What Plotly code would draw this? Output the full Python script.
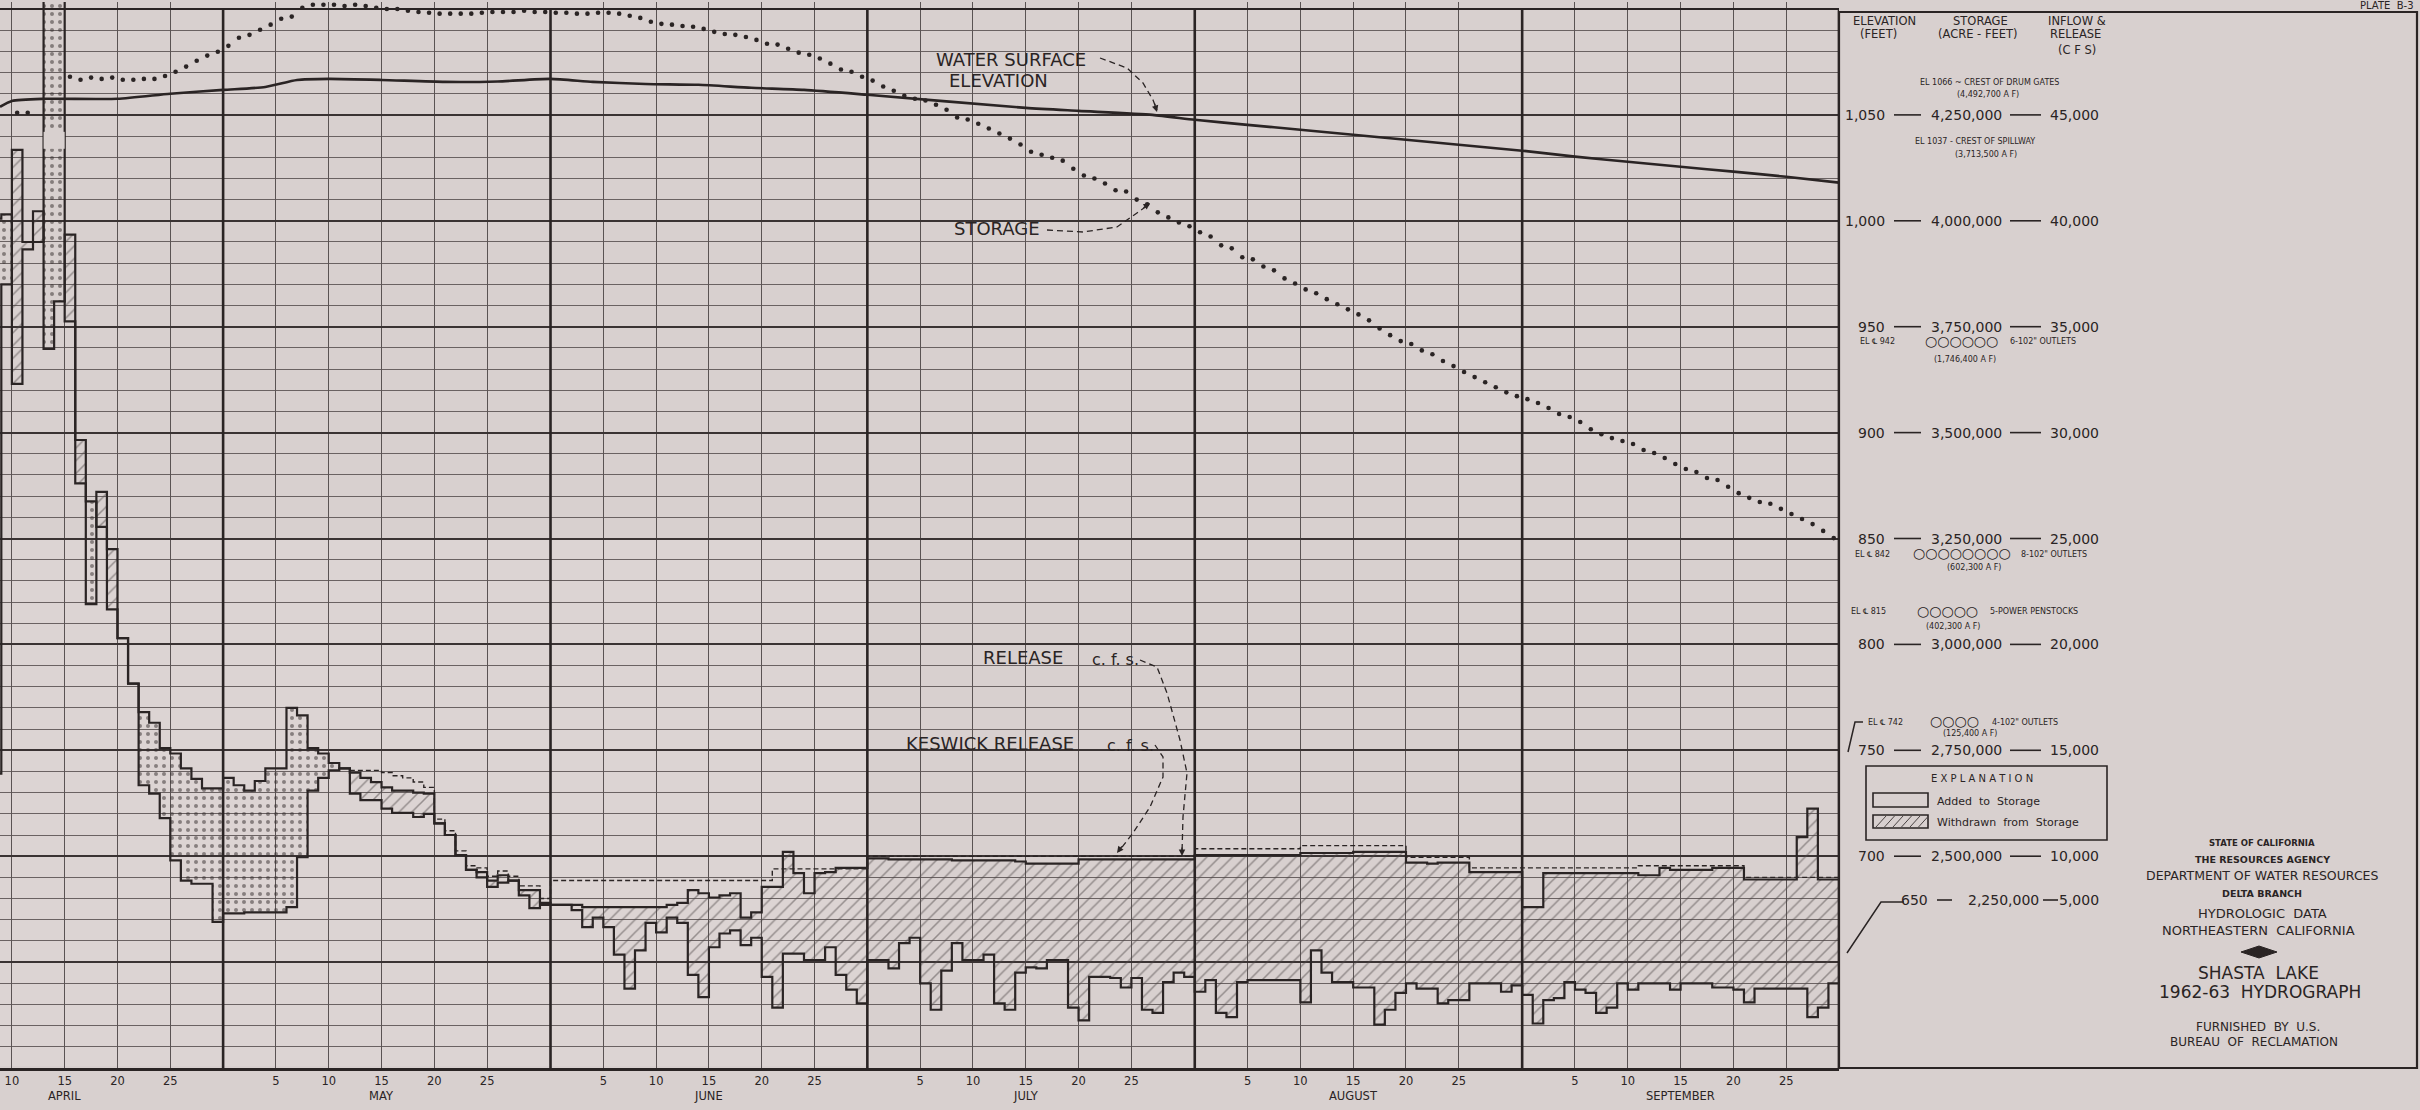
import plotly.graph_objects as go
import pandas as pd

W, H = 2420, 1110
INK = "#2a2424"
BG = "#d8d0cf"
FONT = "DejaVu Sans"

# ------------------------------------------------------------------ data
first_day = "1963-04-09"
last_day = "1963-09-30"

# Shasta inflow, daily mean c.f.s.
inflow_apr = [40100, 40300, 32300, 38650, 39000, 72000, 64000, 35250, 27600, 26750,
              25550, 21650, 20300, 18150, 16800, 16300, 15100, 14850, 14150, 13650,
              13200, 13200]
inflow_may = [13700, 13350, 13100, 13550, 14150, 14150, 17000, 16650, 15100, 14850,
              14400, 14150, 12950, 12650, 12650, 12250, 12050, 12050, 11850, 12000,
              11550, 11000, 10050, 9350, 9000, 8550, 8750, 8850, 8150, 7550, 7700]
inflow_jun = [7700, 7700, 7450, 6650, 7100, 6650, 5350, 3750, 5550, 6850,
              6400, 7100, 6850, 4400, 3350, 5700, 6350, 6500, 5800, 6150,
              4300, 2850, 5400, 5400, 5100, 5100, 5700, 4400, 3700, 3050]
inflow_jul = [5100, 5100, 4700, 5900, 6150, 4000, 2750, 4600, 5900, 5100,
              5100, 5350, 3050, 2750, 4500, 4750, 4700, 5100, 5100, 2850,
              2250, 4300, 4300, 4250, 3800, 4250, 2750, 2600, 4050, 4500, 4300]
inflow_aug = [3600, 4150, 2600, 2400, 4050, 4150, 4150, 4150, 4150, 4150,
              3100, 5550, 4500, 4050, 4050, 3800, 3800, 2050, 2750, 3550,
              4000, 3750, 3750, 3050, 3200, 3200, 4000, 4000, 4000, 3600, 3900]
inflow_sep = [3450, 2100, 3200, 3300, 4050, 3700, 3550, 2600, 2850, 4000,
              3700, 4000, 4000, 4000, 3700, 4000, 4000, 4000, 3800, 3800,
              3700, 3100, 3750, 3750, 3750, 3750, 3750, 2400, 2850, 4000]

# Shasta release, daily mean c.f.s.
release_apr = [13900, 37000, 43350, 39000, 40450, 33950, 36200, 39350, 29650, 21900,
               27200, 24500, 20300, 18150, 13350, 12950, 11800, 9800, 8850, 8700,
               8700, 6900]
release_may = [7300, 7300, 7350, 7350, 7350, 7350, 7600, 9950, 13100, 13700,
               14050, 14150, 13950, 13700, 13500, 13250, 13100, 13100, 13000, 12950,
               11550, 11000, 10050, 9350, 9250, 8850, 9100, 8850, 8400, 8400, 7800]
release_jun = [7700, 7700, 7700, 7600, 7600, 7600, 7600, 7600, 7600, 7600,
               7600, 7700, 7800, 8400, 8250, 8050, 8150, 8250, 7100, 7350,
               8550, 8550, 10200, 9200, 8250, 9200, 9250, 9450, 9450, 9450]
release_jul = [9900, 9900, 9850, 9850, 9850, 9850, 9850, 9850, 9800, 9800,
               9800, 9800, 9800, 9800, 9750, 9650, 9650, 9650, 9650, 9650,
               9850, 9850, 9850, 9850, 9850, 9850, 9850, 9850, 9850, 9850, 9850]
release_aug = [10050, 10050, 10050, 10050, 10050, 10050, 10050, 10050, 10050, 10050,
               10150, 10150, 10150, 10150, 10150, 10200, 10200, 10200, 10200, 10200,
               9700, 9700, 9650, 9700, 9700, 9700, 9250, 9250, 9250, 9250, 9250]
release_sep = [7600, 7600, 9200, 9200, 9200, 9200, 9200, 9200, 9200, 9200,
               9200, 9100, 9100, 9450, 9350, 9350, 9350, 9350, 9450, 9450,
               9450, 8900, 8900, 8900, 8900, 8900, 10900, 12250, 8900, 8900]

# Keswick release, c.f.s. (None = not drawn)
keswick_apr = [None] * 22
keswick_may = [None, None, None, None, None, None, None, None, None, None,
               None, None, 14050, 14050, 14050, 13950, 13800, 13700, 13500, 13250,
               11750, 11200, 10250, 9550, 9450, 9050, 9300, 9050, 8600, 8600, 8000]
keswick_jun = [8850, 8850, 8850, 8850, 8850, 8850, 8850, 8850, 8850, 8850,
               8850, 8850, 8850, 8850, 8850, 8850, 8850, 8850, 8850, 8850,
               8850, 9400, 9400, 9400, 9400, 9400, 9400, 9400, 9400, 9400]
keswick_jul = [10000, 10000, 10000, 10000, 10000, 10000, 10000, 10000, 10000, 10000,
               10000, 10000, 10000, 10000, 10000, 10000, 10000, 10000, 10000, 10000,
               10000, 10000, 10000, 10000, 10000, 10000, 10000, 10000, 10000, 10000, 10000]
keswick_aug = [10350, 10350, 10350, 10350, 10350, 10350, 10350, 10350, 10350, 10350,
               10500, 10500, 10500, 10500, 10500, 10500, 10500, 10500, 10500, 10500,
               9950, 9950, 9950, 9950, 9950, 9950, 9450, 9450, 9450, 9450, 9450]
keswick_sep = [9450, 9450, 9450, 9450, 9450, 9450, 9450, 9450, 9450, 9450,
               9450, 9550, 9550, 9550, 9550, 9550, 9550, 9550, 9550, 9550,
               9550, 9000, 9000, 9000, 9000, 9000, 9000, 9000, 9000, 9000]

# Storage, thousand acre-feet (daily dots)
storage_apr = [None, None, 4255, 4255, None, None, None, 4340, 4333, 4338,
               4335, 4338, 4333, 4333, 4335, 4335, 4342, 4352, 4364, 4378,
               4390, 4399]
storage_may = [4413, 4432, 4439, 4451, 4463, 4477, 4482, 4503, 4510, 4510,
               4510, 4507, 4510, 4507, 4503, 4500, 4500, 4496, 4493, 4491,
               4489, 4489, 4489, 4489, 4491, 4493, 4493, 4493, 4496, 4493, 4493]
storage_jun = [4491, 4491, 4489, 4489, 4491, 4491, 4489, 4484, 4479, 4470,
               4465, 4463, 4460, 4458, 4453, 4446, 4441, 4439, 4434, 4427,
               4418, 4416, 4406, 4397, 4392, 4383, 4371, 4357, 4352, 4340]
storage_jul = [4331, 4317, 4307, 4295, 4288, 4284, 4274, 4262, 4244, 4239,
               4229, 4218, 4206, 4194, 4180, 4163, 4156, 4149, 4142, 4123,
               4107, 4100, 4088, 4072, 4069, 4050, 4039, 4020, 4008, 3996, 3987]
storage_aug = [3973, 3963, 3942, 3935, 3914, 3909, 3892, 3883, 3864, 3852,
               3838, 3829, 3815, 3803, 3791, 3779, 3765, 3746, 3730, 3716,
               3709, 3694, 3685, 3669, 3657, 3643, 3631, 3619, 3607, 3595, 3586]
storage_sep = [3579, 3570, 3558, 3544, 3537, 3525, 3508, 3496, 3487, 3480,
               3473, 3459, 3452, 3440, 3426, 3414, 3407, 3393, 3388, 3372,
               3357, 3346, 3336, 3332, 3320, 3308, 3296, 3284, 3268, 3251]

# Water surface elevation, feet
elev_dates = ["1963-04-09 21:00", "1963-04-11", "1963-04-14", "1963-04-21", "1963-04-26",
              "1963-05-01", "1963-05-05", "1963-05-08", "1963-05-11", "1963-05-16",
              "1963-05-22", "1963-05-27", "1963-06-01", "1963-06-05", "1963-06-10",
              "1963-06-15", "1963-06-20", "1963-06-25", "1963-07-01", "1963-07-16",
              "1963-07-21", "1963-07-28", "1963-08-01", "1963-08-06", "1963-08-11",
              "1963-08-16", "1963-08-21", "1963-08-26", "1963-09-01", "1963-09-06",
              "1963-09-11", "1963-09-16", "1963-09-21", "1963-09-26", "1963-10-01"]
elev_ft = [1053.8, 1056.6, 1057.6, 1057.6, 1060.0, 1061.8, 1063.2, 1066.5, 1067.0, 1066.5,
           1065.6, 1065.8, 1067.0, 1065.6, 1064.6, 1064.2, 1062.8, 1061.8, 1059.5, 1053.3,
           1051.9, 1050.0, 1047.7, 1045.3, 1043.0, 1040.6, 1038.3, 1035.9, 1033.1, 1030.3,
           1027.9, 1025.5, 1023.2, 1020.8, 1018.0]

# axis scale labels (right-hand table)
scale_elev = ["1,050", "1,000", "950", "900", "850", "800", "750", "700"]
scale_storage = ["4,250,000", "4,000,000", "3,750,000", "3,500,000",
                 "3,250,000", "3,000,000", "2,750,000", "2,500,000"]
scale_cfs_text = ["45,000", "40,000", "35,000", "30,000", "25,000", "20,000", "15,000", "10,000"]
scale_cfs = [45000, 40000, 35000, 30000, 25000, 20000, 15000, 10000]

month_names = ["APRIL", "MAY", "JUNE", "JULY", "AUGUST", "SEPTEMBER"]
month_nums = [4, 5, 6, 7, 8, 9]
grid_days = [5, 10, 15, 20, 25]

# ------------------------------------------------------------------ derived
inflow = inflow_apr + inflow_may + inflow_jun + inflow_jul + inflow_aug + inflow_sep
release = release_apr + release_may + release_jun + release_jul + release_aug + release_sep
keswick = keswick_apr + keswick_may + keswick_jun + keswick_jul + keswick_aug + keswick_sep
storage = storage_apr + storage_may + storage_jun + storage_jul + storage_aug + storage_sep

days = list(pd.date_range(first_day, last_day, freq="D"))
one = pd.Timedelta(days=1)
xs = [d.strftime("%Y-%m-%d") for d in days] + [(days[-1] + one).strftime("%Y-%m-%d")]
ext = lambda a: list(a) + [a[-1]]
inflow_e, release_e, keswick_e = ext(inflow), ext(release), ext(keswick)
upper = [max(a, b) for a, b in zip(inflow_e, release_e)]
x_mid = [(d + pd.Timedelta(hours=12)).strftime("%Y-%m-%d %H:%M") for d in days]

# ------------------------------------------------------------------ geometry helpers
PLOT_TOP, PLOT_BOTTOM, PLOT_RIGHT = 9, 1068, 1839
EXTRA = 7                      # px of headroom above the 50,000 line (for dots / flood bars)
X0 = pd.Timestamp(first_day) + pd.Timedelta(hours=21)
X1 = days[-1] + one
span = PLOT_BOTTOM - PLOT_TOP
head = EXTRA / span


def px(x):
    return x / W


def py(y):
    return (H - y) / H


def T(x, y, s, size=14, anchor="center", bold=False, yref="paper", family=FONT, color=INK):
    if bold:
        s = "<b>" + s + "</b>"
    return dict(x=px(x), y=(py(y) if yref == "paper" else y), xref="paper", yref=yref,
                text=s, showarrow=False, xanchor=anchor, yanchor="middle",
                font=dict(family=family, size=size, color=color))


def path(points):
    return "M " + " L ".join(f"{px(a):.5f},{py(b):.5f}" for a, b in points)


fig = go.Figure()

# added to storage (inflow above release) - stipple
fig.add_trace(go.Scatter(x=xs, y=release_e, mode="lines", line=dict(width=0, shape="hv"),
                         hoverinfo="skip", showlegend=False))
fig.add_trace(go.Scatter(x=xs, y=upper, mode="lines", line=dict(width=0, shape="hv"),
                         fill="tonexty", fillcolor="rgba(0,0,0,0)",
                         fillpattern=dict(shape=".", fgcolor="#2f2929", bgcolor="rgba(0,0,0,0)",
                                          size=8, solidity=0.2),
                         hoverinfo="skip", showlegend=False))
# withdrawn from storage (release above inflow) - hatch
fig.add_trace(go.Scatter(x=xs, y=inflow_e, mode="lines", line=dict(width=0, shape="hv"),
                         hoverinfo="skip", showlegend=False))
fig.add_trace(go.Scatter(x=xs, y=upper, mode="lines", line=dict(width=0, shape="hv"),
                         fill="tonexty", fillcolor="rgba(0,0,0,0)",
                         fillpattern=dict(shape="/", fgcolor="#4e4747", bgcolor="rgba(0,0,0,0)",
                                          size=9, solidity=0.17),
                         hoverinfo="skip", showlegend=False))
# outlines
fig.add_trace(go.Scatter(x=xs, y=inflow_e, mode="lines", name="Inflow",
                         line=dict(color=INK, width=2.2, shape="hv")))
fig.add_trace(go.Scatter(x=xs, y=release_e, mode="lines", name="Release",
                         line=dict(color=INK, width=2.2, shape="hv")))
fig.add_trace(go.Scatter(x=xs, y=keswick_e, mode="lines", name="Keswick release",
                         line=dict(color=INK, width=1.4, shape="hv", dash="5px,3px")))
# storage dots
fig.add_trace(go.Scatter(x=x_mid, y=storage, mode="markers", yaxis="y3", name="Storage",
                         marker=dict(size=4.6, color=INK), cliponaxis=False))
# water surface elevation
fig.add_trace(go.Scatter(x=elev_dates, y=elev_ft, mode="lines", yaxis="y2",
                         name="Water surface elevation",
                         line=dict(color=INK, width=2.6, shape="spline", smoothing=0.6)))

# ------------------------------------------------------------------ axes
tickvals, ticktext = [], []
for m in month_nums:
    for d in grid_days:
        t = pd.Timestamp(1963, m, d) + one
        if t > X0:
            tickvals.append(t.strftime("%Y-%m-%d"))
            ticktext.append(str(d))

fig.update_layout(
    width=W, height=H, margin=dict(l=0, r=0, t=0, b=0),
    paper_bgcolor=BG, plot_bgcolor=BG, showlegend=False,
    xaxis=dict(type="date", range=[X0.strftime("%Y-%m-%d %H:%M"), X1.strftime("%Y-%m-%d")],
               domain=[0, px(PLOT_RIGHT)], tickmode="array", tickvals=tickvals, ticktext=ticktext,
               showgrid=True, gridcolor="#5a5353", gridwidth=1.3, ticks="",
               tickfont=dict(family=FONT, size=11.5, color=INK),
               showline=True, linecolor=INK, linewidth=2.6, zeroline=False, automargin=False),
    yaxis=dict(range=[0, 50000 * (1 + head)], domain=[py(PLOT_BOTTOM), py(PLOT_TOP - EXTRA)],
               dtick=5000, tick0=0,
               showgrid=True, gridcolor="#3a3333", gridwidth=2.2,
               minor=dict(dtick=1000, tick0=0, showgrid=True, gridcolor="#6a6262", gridwidth=1.2),
               showticklabels=False, ticks="", zeroline=False, automargin=False),
    yaxis2=dict(range=[600, 1100 + 500 * head], overlaying="y", visible=False),
    yaxis3=dict(range=[2000, 4500 + 2500 * head], overlaying="y", visible=False),
)

shapes = []
# scan-lightened area of the sheet
shapes.append(dict(type="rect", xref="paper", yref="paper", x0=0, x1=px(870),
                   y0=py(1066), y1=py(540), fillcolor="rgba(255,255,255,0.10)",
                   line=dict(width=0), layer="between"))
# hide grid in the headroom strip above the top line
shapes.append(dict(type="rect", xref="paper", yref="paper", x0=0, x1=px(PLOT_RIGHT),
                   y0=py(PLOT_TOP - 1), y1=1, fillcolor=BG, line=dict(width=0), layer="between"))
# bold month-end lines
for m in month_nums:
    t = (pd.Timestamp(1963, m + 1, 1)).strftime("%Y-%m-%d")
    shapes.append(dict(type="line", xref="x", yref="paper", x0=t, x1=t,
                       y0=py(PLOT_BOTTOM), y1=py(PLOT_TOP), line=dict(color=INK, width=2.6)))
# top line of the chart
shapes.append(dict(type="line", xref="paper", yref="paper", x0=0, x1=px(PLOT_RIGHT),
                   y0=py(PLOT_TOP), y1=py(PLOT_TOP), line=dict(color=INK, width=2.2)))
# break in off-scale flood columns
shapes.append(dict(type="rect", xref="x", yref="y", x0="1963-04-14", x1="1963-04-16",
                   y0=43400, y1=44200, fillcolor=BG, line=dict(width=0), layer="above"))
# right panel frame
shapes.append(dict(type="rect", xref="paper", yref="paper", x0=px(PLOT_RIGHT), x1=px(2417),
                   y0=py(PLOT_BOTTOM), y1=py(12), line=dict(color=INK, width=2.2)))

ann = []
# x-axis month names
for name, m in zip(month_names, month_nums):
    t = (pd.Timestamp(1963, m, 15) + one).strftime("%Y-%m-%d")
    ann.append(dict(x=t, y=py(1096), xref="x", yref="paper", text=name, showarrow=False,
                    xanchor="center", yanchor="middle", font=dict(family=FONT, size=11.5, color=INK)))

# chart labels and leaders
ann += [
    T(1011, 59, "WATER SURFACE", 18),
    T(998, 80, "ELEVATION", 18),
    T(997, 228, "STORAGE", 18),
    T(1023, 657, "RELEASE", 18),
    T(1115, 660, "c. f. s.", 16),
    T(990, 743, "KESWICK RELEASE", 18),
    T(1130, 745, "c. f. s.", 16),
]
leaders = [
    [(1100, 58), (1127, 68), (1143, 83), (1153, 100), (1157, 110)],
    [(1047, 230), (1083, 232), (1117, 227), (1137, 213), (1148, 205)],
    [(1140, 660), (1157, 667), (1167, 693), (1180, 740), (1187, 773), (1183, 817), (1182, 853)],
    [(1155, 745), (1163, 757), (1163, 777), (1150, 807), (1133, 833), (1119, 851)],
]
for pts in leaders:
    shapes.append(dict(type="path", xref="paper", yref="paper", path=path(pts),
                       line=dict(color=INK, width=1.3, dash="6px,4px")))
for (tx, ty), (ax, ay) in [((1157, 112), (-3, -10)), ((1150, 203), (-8, 6)),
                          ((1182, 856), (0, -10)), ((1117, 853), (6, -8))]:
    ann.append(dict(x=px(tx), y=py(ty), xref="paper", yref="paper", text="", showarrow=True,
                    ax=ax, ay=ay, arrowhead=2, arrowsize=1, arrowwidth=1.3, arrowcolor=INK))

# ---- right-hand panel
ann += [
    T(1884, 21, "ELEVATION", 11.5), T(1980, 21, "STORAGE", 11.5), T(2077, 21, "INFLOW &", 11.5),
    T(1878, 34, "(FEET)", 11.5), T(1978, 34, "(ACRE - FEET)", 11.5), T(2075, 34, "RELEASE", 11.5),
    T(2077, 50, "(C F S)", 11.5),
    T(1989, 82, "EL 1066 ~ CREST OF DRUM GATES", 8),
    T(1988, 94, "(4,492,700 A F)", 8),
    T(1975, 141, "EL 1037 - CREST OF SPILLWAY", 8),
    T(1986, 154, "(3,713,500 A F)", 8),
]
for e, s, ct, cv in zip(scale_elev, scale_storage, scale_cfs_text, scale_cfs):
    ann.append(T(1887, cv, e, 14, anchor="right", yref="y"))
    ann.append(T(1966, cv, s, 14, yref="y"))
    ann.append(T(2101, cv, ct, 14, anchor="right", yref="y"))
    for a, b in [(1894, 1921), (2010, 2041)]:
        shapes.append(dict(type="line", xref="paper", yref="y", x0=px(a), x1=px(b), y0=cv, y1=cv,
                           line=dict(color=INK, width=1.6)))
# 650 row (offset, with leader)
ann += [T(1930, 900, "650", 14, anchor="right"), T(2003, 900, "2,250,000", 14),
        T(2101, 900, "5,000", 14, anchor="right")]
for a, b in [(1937, 1952), (2043, 2058)]:
    shapes.append(dict(type="line", xref="paper", yref="paper", x0=px(a), x1=px(b),
                       y0=py(900), y1=py(900), line=dict(color=INK, width=1.6)))
shapes.append(dict(type="path", xref="paper", yref="paper",
                   path=path([(1904, 902), (1881, 902), (1847, 953)]), line=dict(color=INK, width=1.5)))

# outlets
ann += [
    T(1858, 342, "EL \u2104 942", 8, anchor="left"), T(1961, 341, "\u25cb" * 6, 14),
    T(2008, 342, "6-102\" OUTLETS", 8, anchor="left"),
    T(1965, 359, "(1,746,400 A F)", 8),
    T(1853, 554, "EL \u2104 842", 8, anchor="left"), T(1962, 553, "\u25cb" * 8, 14),
    T(2019, 554, "8-102\" OUTLETS", 8, anchor="left"),
    T(1974, 567, "(602,300 A F)", 8),
    T(1849, 612, "EL \u2104 815", 8, anchor="left"), T(1947, 611, "\u25cb" * 5, 14),
    T(1988, 612, "5-POWER PENSTOCKS", 8, anchor="left"),
    T(1953, 626, "(402,300 A F)", 8),
    T(1866, 722, "EL \u2104 742", 8, anchor="left"), T(1954, 721, "\u25cb" * 4, 14),
    T(1990, 722, "4-102\" OUTLETS", 8, anchor="left"),
    T(1970, 733, "(125,400 A F)", 8),
]
shapes.append(dict(type="path", xref="paper", yref="paper",
                   path=path([(1863, 722), (1855, 722), (1848, 752)]), line=dict(color=INK, width=1.5)))

# explanation box
shapes.append(dict(type="rect", xref="paper", yref="paper", x0=px(1866), x1=px(2107),
                   y0=py(840), y1=py(766), line=dict(color=INK, width=1.6)))
shapes.append(dict(type="rect", xref="paper", yref="paper", x0=px(1873), x1=px(1928),
                   y0=py(807), y1=py(793), line=dict(color=INK, width=1.6)))
shapes.append(dict(type="rect", xref="paper", yref="paper", x0=px(1873), x1=px(1928),
                   y0=py(828), y1=py(815), line=dict(color=INK, width=1.6)))
for k in range(6):
    a = 1876 + k * 8.5
    shapes.append(dict(type="line", xref="paper", yref="paper", x0=px(a), x1=px(a + 10),
                       y0=py(827), y1=py(816), line=dict(color="#4a4343", width=1)))
ann += [
    T(1982, 779, "E X P L A N A T I O N", 10),
    T(1935, 801, "Added  to  Storage", 11, anchor="left"),
    T(1935, 822, "Withdrawn  from  Storage", 11, anchor="left"),
]

# title block
ann += [
    T(2262, 843, "STATE OF CALIFORNIA", 8.5, bold=True),
    T(2262, 859, "THE RESOURCES AGENCY", 9.5, bold=True),
    T(2262, 876, "DEPARTMENT OF WATER RESOURCES", 12.5),
    T(2262, 893, "DELTA BRANCH", 9.5, bold=True),
    T(2262, 913, "HYDROLOGIC  DATA", 13),
    T(2258, 930, "NORTHEASTERN  CALIFORNIA", 13),
    T(2258, 973, "SHASTA  LAKE", 17),
    T(2260, 992, "1962-63  HYDROGRAPH", 17),
    T(2258, 1027, "FURNISHED  BY  U.S.", 12),
    T(2254, 1042, "BUREAU  OF  RECLAMATION", 12),
    T(2416, 6, "PLATE  B-3", 10, anchor="right"),
]
shapes.append(dict(type="path", xref="paper", yref="paper", fillcolor=INK,
                   path=path([(2241, 952), (2259, 946), (2277, 952), (2259, 958)]) + " Z",
                   line=dict(color=INK, width=1)))

fig.update_layout(shapes=shapes, annotations=ann)

fig.write_html("out.html", config={"displayModeBar": False},
               post_script="document.body.style.margin='0';document.body.style.overflow='hidden';")
